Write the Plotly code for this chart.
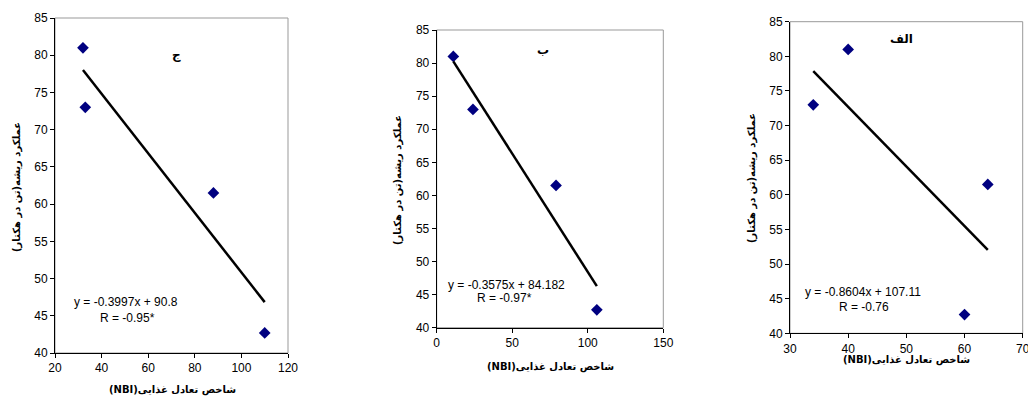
import plotly.graph_objects as go

# ---- data ----
panel_labels = ["ج", "ب", "الف"]
nbi_c = [32, 33, 88, 110]
yield_c = [81, 73, 61.5, 42.7]
nbi_b = [11, 24, 79, 106]
yield_b = [81, 73, 61.5, 42.7]
nbi_a = [34, 40, 60, 64]
yield_a = [73, 81, 42.7, 61.5]
slopes = [-0.3997, -0.3575, -0.8604]
intercepts = [90.8, 84.182, 107.11]
eq_texts = ["y = -0.3997x + 90.8", "y = -0.3575x + 84.182", "y = -0.8604x + 107.11"]
r_texts = ["R = -0.95*", "R = -0.97*", "R = -0.76"]
x_ranges = [[20, 120], [0, 150], [30, 70]]
x_dticks = [20, 50, 10]
y_range = [40, 85]
x_title = "شاخص تعادل غذایی(NBI)"
y_title = "عملکرد ریشه(تن در هکتار)"

W, H = 1028, 399
# layout in pixels (left, right, top, bottom)
boxes = [(55, 288, 18, 353), (436.7, 663.3, 30, 327.7), (790, 1022.7, 21.7, 333.3)]
eq_pos = [((126, 302), (127, 318)), ((506, 285), (504, 298)), ((863, 292), (864, 307))]
lab_pos = [(176, 55), (543, 50), (901, 39)]
xt_pos = [(172, 390), (550, 367), (906, 360)]
yt_pos = [(17, 187), (398, 180), (752, 178)]

FONT = "Liberation Sans, Arial, sans-serif"
AFONT = "DejaVu Sans, Noto Sans, sans-serif"
RLE, PDF = "\u202B", "\u202C"
xs = [nbi_c, nbi_b, nbi_a]
ys = [yield_c, yield_b, yield_a]


def ann(x, y, text, font, size, angle=0, weight="normal"):
    return dict(x=x / W, y=1 - y / H, xref="paper", yref="paper", text=text,
                xanchor="center", yanchor="middle", showarrow=False, textangle=angle,
                font=dict(family=font, size=size, color="black", weight=weight))


fig = go.Figure()
annotations = []
shapes = []
for i in range(3):
    ax = "" if i == 0 else str(i + 1)
    xa, ya = "x" + ax, "y" + ax
    fig.add_trace(go.Scatter(x=xs[i], y=ys[i], mode="markers",
                             marker=dict(symbol="diamond", size=9, color="#000080"),
                             xaxis=xa, yaxis=ya, showlegend=False, cliponaxis=False))
    x0, x1 = min(xs[i]), max(xs[i])
    fig.add_trace(go.Scatter(x=[x0, x1], y=[slopes[i] * x0 + intercepts[i], slopes[i] * x1 + intercepts[i]],
                             mode="lines", line=dict(color="black", width=2.5),
                             xaxis=xa, yaxis=ya, showlegend=False))
    l, r, t, b = boxes[i]
    axis_common = dict(showgrid=False, zeroline=False, showline=True, linecolor="black", linewidth=1,
                       ticks="outside", ticklen=4, tickcolor="black", automargin=False,
                       ticklabeloverflow="allow",
                       tickfont=dict(family=FONT, size=12, color="black"))
    fig.layout["xaxis" + ax] = dict(domain=[l / W, r / W], anchor=ya, range=x_ranges[i],
                                    dtick=x_dticks[i], tick0=0, **axis_common)
    fig.layout["yaxis" + ax] = dict(domain=[1 - b / H, 1 - t / H], anchor=xa, range=y_range,
                                    dtick=5, **axis_common)
    shapes.append(dict(type="rect", xref="paper", yref="paper", x0=l / W, x1=r / W,
                       y0=1 - b / H, y1=1 - t / H, line=dict(color="#999999", width=1),
                       layer="below"))
    (ex, ey), (rx, ry) = eq_pos[i]
    annotations.append(ann(ex, ey, eq_texts[i], FONT, 12))
    annotations.append(ann(rx, ry, r_texts[i], FONT, 12))
    lx, ly = lab_pos[i]
    annotations.append(ann(lx, ly, panel_labels[i], AFONT, 12, weight=600))
    tx, ty = xt_pos[i]
    annotations.append(ann(tx, ty, RLE + x_title + PDF, AFONT, 10, weight=600))
    yx, yy = yt_pos[i]
    annotations.append(ann(yx, yy, RLE + y_title + PDF, AFONT, 10, -90, weight=600))

fig.update_layout(width=W, height=H, margin=dict(l=0, r=0, t=0, b=0),
                  plot_bgcolor="white", paper_bgcolor="white",
                  annotations=annotations, shapes=shapes)
fig.write_html("out.html", config={"displayModeBar": False},
               post_script="document.body.style.margin='0';document.body.style.overflow='hidden';")
